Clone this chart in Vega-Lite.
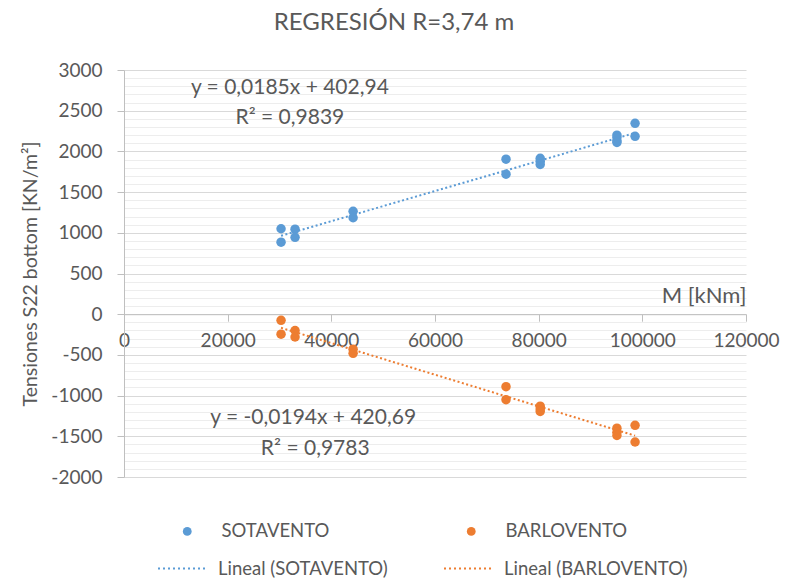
{
  "$schema": "https://vega.github.io/schema/vega-lite/v6.json",
  "width": 622,
  "height": 407,
  "autosize": {"type": "none"},
  "padding": {"left": 124, "top": 70, "right": 42, "bottom": 104},
  "background": "white",
  "title": {"text": "REGRESIÓN R=3,74 m", "font": "Lato", "fontSize": 24, "fontWeight": "normal", "color": "#595959", "anchor": "middle", "dx": -41, "offset": 26},
  "config": {"font": "Lato", "view": {"stroke": null}},
  "datasets": {
    "puntos": [
      {"M": 30300, "S": 1050, "serie": "SOTAVENTO"},
      {"M": 30300, "S": 885, "serie": "SOTAVENTO"},
      {"M": 33000, "S": 1045, "serie": "SOTAVENTO"},
      {"M": 33000, "S": 945, "serie": "SOTAVENTO"},
      {"M": 44200, "S": 1265, "serie": "SOTAVENTO"},
      {"M": 44200, "S": 1185, "serie": "SOTAVENTO"},
      {"M": 73700, "S": 1905, "serie": "SOTAVENTO"},
      {"M": 73700, "S": 1720, "serie": "SOTAVENTO"},
      {"M": 80300, "S": 1915, "serie": "SOTAVENTO"},
      {"M": 80300, "S": 1880, "serie": "SOTAVENTO"},
      {"M": 80300, "S": 1840, "serie": "SOTAVENTO"},
      {"M": 95100, "S": 2200, "serie": "SOTAVENTO"},
      {"M": 95100, "S": 2170, "serie": "SOTAVENTO"},
      {"M": 95100, "S": 2130, "serie": "SOTAVENTO"},
      {"M": 95100, "S": 2110, "serie": "SOTAVENTO"},
      {"M": 98600, "S": 2345, "serie": "SOTAVENTO"},
      {"M": 98600, "S": 2185, "serie": "SOTAVENTO"},
      {"M": 30300, "S": -75, "serie": "BARLOVENTO"},
      {"M": 30300, "S": -245, "serie": "BARLOVENTO"},
      {"M": 33000, "S": -200, "serie": "BARLOVENTO"},
      {"M": 33000, "S": -280, "serie": "BARLOVENTO"},
      {"M": 44200, "S": -430, "serie": "BARLOVENTO"},
      {"M": 44200, "S": -480, "serie": "BARLOVENTO"},
      {"M": 73700, "S": -890, "serie": "BARLOVENTO"},
      {"M": 73700, "S": -1050, "serie": "BARLOVENTO"},
      {"M": 80300, "S": -1130, "serie": "BARLOVENTO"},
      {"M": 80300, "S": -1165, "serie": "BARLOVENTO"},
      {"M": 80300, "S": -1195, "serie": "BARLOVENTO"},
      {"M": 95100, "S": -1400, "serie": "BARLOVENTO"},
      {"M": 95100, "S": -1450, "serie": "BARLOVENTO"},
      {"M": 95100, "S": -1490, "serie": "BARLOVENTO"},
      {"M": 98600, "S": -1365, "serie": "BARLOVENTO"},
      {"M": 98600, "S": -1570, "serie": "BARLOVENTO"}
    ],
    "lineas": [
      {"M": 30300, "S": 963.5, "linea": "Lineal (SOTAVENTO)"},
      {"M": 98600, "S": 2227.0, "linea": "Lineal (SOTAVENTO)"},
      {"M": 30300, "S": -167.1, "linea": "Lineal (BARLOVENTO)"},
      {"M": 98600, "S": -1492.2, "linea": "Lineal (BARLOVENTO)"}
    ],
    "etiquetas": [
      {"M": 32000, "S": 2780, "t": "y = 0,0185x + 402,94"},
      {"M": 32000, "S": 2410, "t": "R² = 0,9839"},
      {"M": 36500, "S": -1280, "t": "y = -0,0194x + 420,69"},
      {"M": 36900, "S": -1660, "t": "R² = 0,9783"}
    ]
  },
  "encoding": {
    "x": {
      "field": "M", "type": "quantitative",
      "scale": {"domain": [0, 120000], "nice": false, "zero": false},
      "axis": {
        "values": [0, 20000, 40000, 60000, 80000, 100000, 120000],
        "grid": false, "offset": -162.8,
        "domainColor": "#BFBFBF", "tickColor": "#BFBFBF", "tickSize": 7,
        "labelPadding": 10, "labelFontSize": 19, "labelColor": "#595959",
        "labelFlush": false, "labelOverlap": false, "labelExpr": "datum.value + ''",
        "title": "M [kNm]", "titleAnchor": "end", "titleX": 622, "titleY": -7,
        "titleAlign": "right", "titleBaseline": "bottom", "titleFontSize": 22,
        "titleFontWeight": "normal", "titleColor": "#595959"
      }
    }
  },
  "resolve": {"scale": {"color": "independent"}, "axis": {"y": "independent"}},
  "layer": [
    {
      "data": {"name": "puntos"},
      "mark": {"type": "point", "opacity": 0},
      "encoding": {
        "y": {
          "field": "S", "type": "quantitative",
          "scale": {"domain": [-2000, 3000], "nice": false, "zero": false},
          "axis": {
            "orient": "right", "title": null, "domain": false, "ticks": false, "labels": false,
            "grid": true, "gridColor": "#EDEDED",
            "values": [-1900,-1800,-1700,-1600,-1400,-1300,-1200,-1100,-900,-800,-700,-600,-400,-300,-200,-100,100,200,300,400,600,700,800,900,1100,1200,1300,1400,1600,1700,1800,1900,2100,2200,2300,2400,2600,2700,2800,2900]
          }
        }
      }
    },
    {
      "data": {"name": "lineas"},
      "mark": {"type": "line", "strokeDash": [2, 2.5], "strokeWidth": 2},
      "encoding": {
        "y": {"field": "S", "type": "quantitative", "scale": {"domain": [-2000, 3000], "nice": false, "zero": false}, "axis": null},
        "color": {
          "field": "linea", "type": "nominal",
          "scale": {"domain": ["Lineal (SOTAVENTO)", "Lineal (BARLOVENTO)"], "range": ["#5B9BD5", "#ED7D31"]},
          "legend": {
            "orient": "none", "legendX": 33, "legendY": 473, "columns": 2, "columnPadding": 52,
            "title": null, "padding": 0, "symbolType": "stroke", "symbolSize": 2401,
            "symbolDash": [2, 3], "symbolStrokeWidth": 2, "labelOffset": 10,
            "labelFontSize": 18.5, "labelColor": "#595959", "labelFont": "Lato", "labelLimit": 300
          }
        }
      }
    },
    {
      "data": {"name": "puntos"},
      "mark": {"type": "circle", "size": 90, "opacity": 1},
      "encoding": {
        "y": {
          "field": "S", "type": "quantitative",
          "scale": {"domain": [-2000, 3000], "nice": false, "zero": false},
          "axis": {
            "values": [-2000, -1500, -1000, -500, 0, 500, 1000, 1500, 2000, 2500, 3000],
            "grid": true, "gridColor": "#D9D9D9",
            "domainColor": "#BFBFBF", "tickColor": "#BFBFBF", "tickSize": 7,
            "labelPadding": 15, "labelFontSize": 19, "labelColor": "#595959",
            "labelExpr": "datum.value + ''",
            "title": "Tensiones S22 bottom [KN/m²]", "titleFontSize": 19.5,
            "titleFontWeight": "normal", "titleColor": "#595959", "titlePadding": 10
          }
        },
        "color": {
          "field": "serie", "type": "nominal",
          "scale": {"domain": ["SOTAVENTO", "BARLOVENTO"], "range": ["#5B9BD5", "#ED7D31"]},
          "legend": {
            "orient": "none", "legendX": 54, "legendY": 452, "columns": 2, "columnPadding": 132,
            "title": null, "padding": 0, "symbolType": "circle", "symbolSize": 78,
            "labelOffset": 25, "labelFontSize": 18.5, "labelColor": "#595959", "labelFont": "Lato"
          }
        }
      }
    },
    {
      "data": {"name": "etiquetas"},
      "mark": {"type": "text", "fontSize": 21, "color": "#595959", "align": "center", "baseline": "middle", "font": "Lato"},
      "encoding": {
        "y": {"field": "S", "type": "quantitative", "scale": {"domain": [-2000, 3000], "nice": false, "zero": false}, "axis": null},
        "text": {"field": "t"}
      }
    }
  ]
}
